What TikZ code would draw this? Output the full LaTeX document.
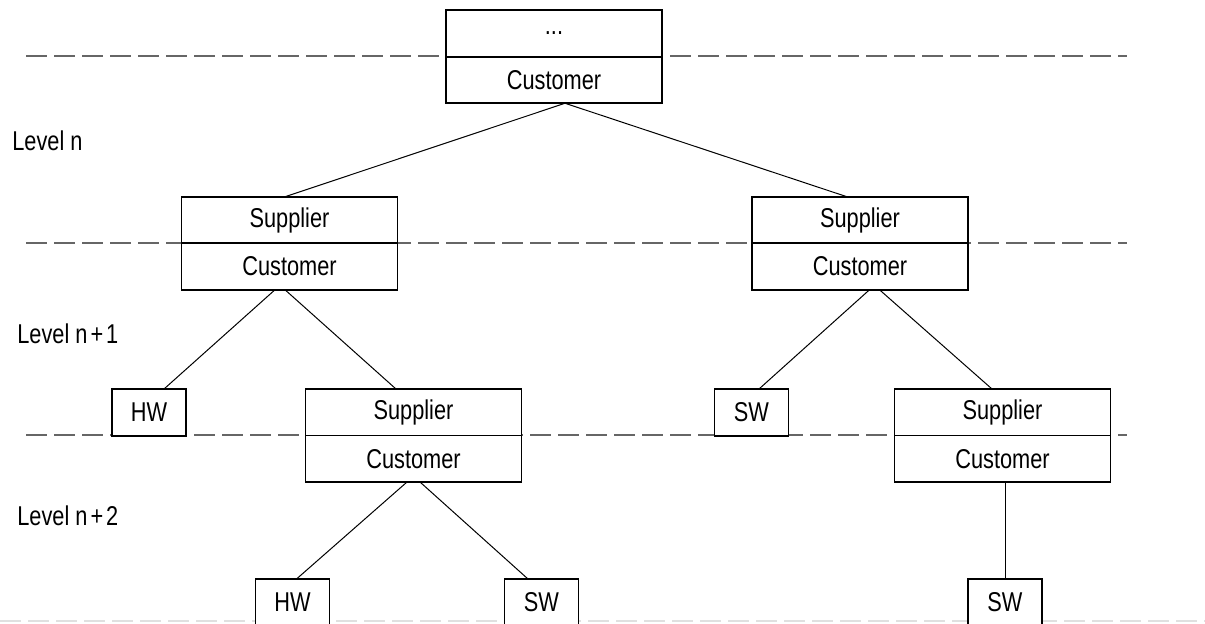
\documentclass[tikz,border=0pt]{standalone}
\usepackage{fontspec}
\setmainfont{Liberation Sans}[FakeStretch=0.8]
\usetikzlibrary{positioning}

\begin{document}
\begin{tikzpicture}[x=0.5pt, y=-0.5pt,
    half/.style={rectangle, draw, fill=white, line width=0.8pt, minimum width=108pt, minimum height=23.25pt, inner sep=0pt, outer sep=0pt, font=\fontsize{13.6pt}{15pt}\selectfont},
    leaf/.style={rectangle, draw, fill=white, line width=0.8pt, minimum width=37pt, minimum height=23.5pt, inner sep=0pt, outer sep=0pt, font=\fontsize{13.6pt}{15pt}\selectfont},
    lvl/.style={anchor=west, inner sep=0pt, font=\fontsize{13.6pt}{15pt}\selectfont},
    levelline/.style={black!60, line width=0.6pt, dash pattern=on 10.5pt off 3.5pt},
    link/.style={line width=0.5pt}]

    \useasboundingbox (0,0) rectangle (1205,623);

    % level borders
    \foreach \y in {56,243,435}
        \draw[levelline] (26,\y) -- (1127,\y);
    \draw[levelline, black!12] (0,621) -- (1205,621);

    % level names
    \node[lvl] (lvn) at (12,141) {Level n};
    \node[lvl] (lvn1) at (17,334) {Level n\kern1.5pt+\kern1.5pt1};
    \node[lvl] (lvn2) at (17,516) {Level n\kern1.5pt+\kern1.5pt2};

    % level n
    \node[half] (tops) at (554,33.5) {...};
    \node[half, below=0pt of tops] (topc) {Customer};

    % level n+1
    \node[half] (l1s) at (289.5,220) {Supplier};
    \node[half, below=0pt of l1s] (l1c) {Customer};
    \node[half] (r1s) at (860,220) {Supplier};
    \node[half, below=0pt of r1s] (r1c) {Customer};

    % level n+2
    \node[leaf] (hw1) at (149,412.5) {HW};
    \node[half] (l2s) at (413.5,412.25) {Supplier};
    \node[half, below=0pt of l2s] (l2c) {Customer};
    \node[leaf] (sw1) at (751.5,412.5) {SW};
    \node[half] (r2s) at (1002.5,412.25) {Supplier};
    \node[half, below=0pt of r2s] (r2c) {Customer};

    % bottom
    \node[leaf] (hw2) at (292.5,602.5) {HW};
    \node[leaf] (sw2) at (541.5,602.5) {SW};
    \node[leaf] (sw3) at (1005,602.5) {SW};

    \draw[link] ([xshift=5.5pt]topc.south) -- ([xshift=-2.25pt]l1s.north);
    \draw[link] ([xshift=5.5pt]topc.south) -- ([xshift=-6.5pt]r1s.north);
    \draw[link] ([xshift=-7.25pt]l1c.south) -- ([xshift=7.5pt]hw1.north);
    \draw[link] ([xshift=-2.25pt]l1c.south) -- ([xshift=-8.75pt]l2s.north);
    \draw[link] ([xshift=4.75pt]r1c.south) -- ([xshift=3.75pt]sw1.north);
    \draw[link] ([xshift=9.75pt]r1c.south) -- ([xshift=-5.25pt]r2s.north);
    \draw[link] ([xshift=-3.25pt]l2c.south) -- ([xshift=2pt]hw2.north);
    \draw[link] ([xshift=3.25pt]l2c.south) -- ([xshift=-6.75pt]sw2.north);
    \draw[link] (r2c.south -| sw3.north) -- (sw3.north);
\end{tikzpicture}
\end{document}
